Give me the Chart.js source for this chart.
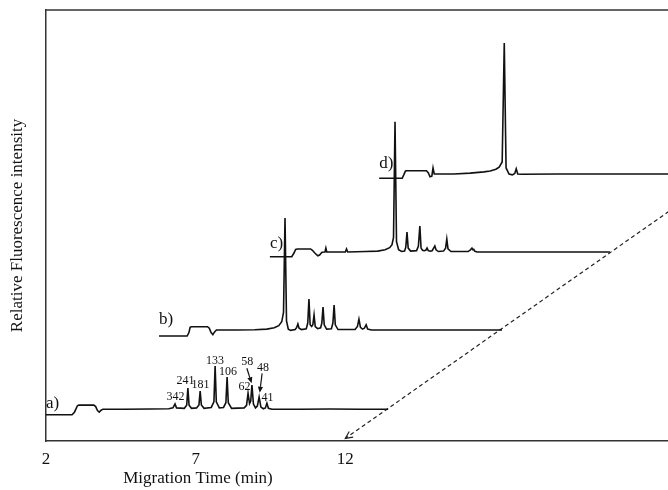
<!DOCTYPE html>
<html><head><meta charset="utf-8">
<script src="https://cdn.jsdelivr.net/npm/chart.js@4.4.1/dist/chart.umd.min.js"></script>
<style>html,body{margin:0;padding:0;background:#fff;}canvas{display:block;}</style>
</head><body>
<canvas id="c" width="668" height="490"></canvas>
<script>
// ---- data ----
const traceNames = ['a)', 'b)', 'c)', 'd)'];
const traceShiftMin = [0, 3.775, 7.48, 11.13];      // waterfall shift along time (min)
const traceShiftInt = [6.08, 24.36, 42.76, 60.95];  // waterfall shift along intensity
const traceLabelLift = [2.7, 3.9, 3.1, 3.5];

// [time (min), relative intensity]
const traceA = [[2.00,0],[2.87,0],[2.95,0.6],[3.05,2.1],[3.10,2.25],[3.60,2.25],[3.66,1.9],[3.72,1.0],[3.78,0.6],[3.83,1.0],[3.90,1.3],[4.60,1.3],[5.50,1.35],[6.10,1.4],[6.24,1.6],[6.31,2.5],[6.36,1.6],[6.62,1.5],[6.70,2.2],[6.74,6.2],[6.78,2.2],[6.86,1.5],[7.03,1.6],[7.11,2.3],[7.15,5.5],[7.19,2.3],[7.28,1.5],[7.52,1.7],[7.61,3.0],[7.65,11.3],[7.69,3.0],[7.79,1.6],[7.93,1.7],[8.01,2.8],[8.05,8.75],[8.09,2.8],[8.20,1.5],[8.62,1.6],[8.70,2.2],[8.75,5.0],[8.80,2.6],[8.84,3.2],[8.88,6.9],[8.93,2.5],[9.00,1.6],[9.06,2.0],[9.12,4.1],[9.18,1.8],[9.26,1.4],[9.33,1.6],[9.38,2.7],[9.43,1.5],[9.55,1.3],[10.5,1.3],[11.5,1.35],[12.5,1.3],[13.43,1.3]];
const traceB = [[2.00,0],[2.94,0],[3.00,0.8],[3.04,2.0],[3.08,2.16],[3.62,2.16],[3.68,1.8],[3.74,0.8],[3.80,0.3],[3.85,0.9],[3.92,1.4],[4.60,1.4],[5.20,1.45],[5.60,1.6],[5.85,1.9],[6.00,2.4],[6.10,3.3],[6.16,5.5],[6.21,27.4],[6.26,3.5],[6.32,1.6],[6.40,1.3],[6.55,1.5],[6.60,2.0],[6.64,2.8],[6.68,1.8],[6.76,1.5],[6.92,1.7],[6.97,3.0],[7.01,8.6],[7.05,2.6],[7.10,2.2],[7.14,2.6],[7.18,4.9],[7.22,2.2],[7.30,1.7],[7.40,1.9],[7.44,3.0],[7.48,6.7],[7.52,2.6],[7.60,1.6],[7.76,1.7],[7.81,3.0],[7.85,7.2],[7.89,2.6],[7.98,1.5],[8.55,1.5],[8.63,2.2],[8.68,3.9],[8.73,2.0],[8.80,1.6],[8.86,1.8],[8.92,2.6],[8.97,1.6],[9.10,1.4],[10.0,1.4],[11.0,1.4],[12.0,1.4],[13.46,1.39]];
const traceC = [[2.00,0],[2.73,0],[2.80,0.8],[2.86,1.7],[2.92,1.8],[3.36,1.8],[3.42,1.5],[3.50,0.86],[3.60,0.2],[3.66,0.4],[3.74,1.05],[3.84,1.1],[3.87,2.0],[3.90,1.1],[4.52,1.1],[4.56,1.8],[4.60,1.1],[5.20,1.2],[5.60,1.3],[5.85,1.6],[6.00,2.1],[6.08,2.8],[6.13,4.5],[6.18,31.3],[6.23,3.5],[6.30,1.6],[6.40,1.2],[6.50,1.3],[6.54,2.2],[6.58,5.7],[6.62,2.0],[6.70,1.3],[6.90,1.4],[6.96,2.4],[7.01,7.1],[7.05,2.0],[7.10,1.5],[7.15,1.4],[7.21,1.5],[7.25,2.0],[7.29,1.4],[7.35,1.3],[7.42,1.4],[7.47,2.0],[7.51,2.5],[7.55,1.6],[7.63,1.2],[7.80,1.3],[7.87,2.0],[7.91,4.1],[7.95,1.8],[8.05,1.2],[8.62,1.2],[8.70,1.6],[8.75,2.0],[8.78,1.6],[8.81,1.7],[8.84,1.3],[8.92,1.1],[10.0,1.1],[11.0,1.1],[12.0,1.1],[13.36,1.09]];
const traceD = [[2.00,0],[2.77,0],[2.83,0.9],[2.88,1.7],[2.93,1.76],[3.58,1.76],[3.64,1.3],[3.70,0.37],[3.76,0.5],[3.80,2.4],[3.84,1.0],[4.50,1.0],[5.04,1.2],[5.50,1.5],[5.71,1.7],[5.90,2.1],[6.01,2.6],[6.11,3.8],[6.18,31.4],[6.24,2.4],[6.34,1.0],[6.45,0.8],[6.53,1.1],[6.58,2.2],[6.63,1.0],[6.75,0.95],[8.0,1.0],[10.0,1.0],[12.5,1.0]];
const traces = [traceA, traceB, traceC, traceD];

const xTickValues = [2, 7, 12];
const xTitle = 'Migration Time (min)';
const yTitle = 'Relative Fluorescence intensity';

const peakLabels    = ['342', '241', '181', '133', '106', '62', '58', '48', '41'];
const peakLabelTime = [6.33, 6.66, 7.16, 7.65, 8.08, 8.63, 8.72, 9.25, 9.40];
const peakLabelInt  = [10.2, 14.0, 13.0, 18.6, 16.1, 12.5, 18.4, 16.9, 10.1];

const arrowFrom = [[8.71, 16.87], [9.22, 15.7]];
const arrowTo   = [[8.87, 13.39], [9.14, 11.2]];
const dashedArrow = [[23.0, 54.2], [12.0, 0.6]];

// ---- chart ----
const SERIF = '"Liberation Serif", "Times New Roman", serif';
const datasets = traces.map((tr, i) => ({
  label: traceNames[i],
  data: tr.map(([t, s]) => ({ x: t + traceShiftMin[i], y: s + traceShiftInt[i] })),
  borderColor: '#111', borderWidth: 1.6, pointRadius: 0, tension: 0, fill: false
}));
datasets.push({
  label: 'arrow',
  data: dashedArrow.map(([t, v]) => ({ x: t, y: v })),
  borderColor: '#222', borderWidth: 1.2, borderDash: [4, 3], pointRadius: 0, fill: false
});

const overlay = {
  id: 'overlay',
  afterDatasetsDraw(chart) {
    const { ctx, chartArea: ca, scales: { x, y } } = chart;
    const px = t => x.getPixelForValue(t), py = v => y.getPixelForValue(v);
    ctx.save();
    ctx.strokeStyle = '#333'; ctx.lineWidth = 1.5;
    ctx.beginPath(); ctx.moveTo(ca.left, ca.top); ctx.lineTo(ca.right, ca.top); ctx.stroke();

    ctx.fillStyle = '#111';
    ctx.font = '17px ' + SERIF; ctx.textAlign = 'left'; ctx.textBaseline = 'middle';
    traceNames.forEach((n, i) => ctx.fillText(n, px(2 + traceShiftMin[i]), py(traceShiftInt[i] + traceLabelLift[i])));

    ctx.font = '12px ' + SERIF; ctx.textAlign = 'center';
    peakLabels.forEach((l, i) => ctx.fillText(l, px(peakLabelTime[i]), py(peakLabelInt[i])));

    ctx.strokeStyle = '#111'; ctx.lineWidth = 1.2;
    arrowFrom.forEach((f, i) => {
      const x1 = px(f[0]), y1 = py(f[1]), x2 = px(arrowTo[i][0]), y2 = py(arrowTo[i][1]);
      const a = Math.atan2(y2 - y1, x2 - x1), L = 6, W = 2.6;
      ctx.beginPath(); ctx.moveTo(x1, y1); ctx.lineTo(x2 - L * Math.cos(a), y2 - L * Math.sin(a)); ctx.stroke();
      ctx.beginPath(); ctx.moveTo(x2, y2);
      ctx.lineTo(x2 - L * Math.cos(a) + W * Math.sin(a), y2 - L * Math.sin(a) - W * Math.cos(a));
      ctx.lineTo(x2 - L * Math.cos(a) - W * Math.sin(a), y2 - L * Math.sin(a) + W * Math.cos(a));
      ctx.closePath(); ctx.fill();
    });

    // open head of the dashed arrow
    const [f, t] = dashedArrow;
    const tx = px(t[0]), ty = py(t[1]);
    const a = Math.atan2(ty - py(f[1]), tx - px(f[0]));
    ctx.lineWidth = 1.2; ctx.strokeStyle = '#222';
    ctx.beginPath();
    ctx.moveTo(tx - 8 * Math.cos(a - 0.45), ty - 8 * Math.sin(a - 0.45));
    ctx.lineTo(tx, ty);
    ctx.lineTo(tx - 8 * Math.cos(a + 0.45), ty - 8 * Math.sin(a + 0.45));
    ctx.stroke();

    ctx.font = '17px ' + SERIF; ctx.textAlign = 'center'; ctx.textBaseline = 'middle';
    ctx.fillText(xTitle, 198, 479);
    ctx.restore();
  }
};

new Chart(document.getElementById('c'), {
  type: 'line',
  data: { datasets },
  options: {
    responsive: false, animation: false, devicePixelRatio: 1,
    events: [],
    layout: { padding: { top: 10, right: 0, bottom: 0, left: 0 } },
    plugins: { legend: { display: false }, tooltip: { enabled: false } },
    scales: {
      x: {
        type: 'linear', min: 2, max: 22.78,
        afterBuildTicks: s => { s.ticks = xTickValues.map(v => ({ value: v })); },
        afterFit: s => { s.height = 49; },
        grid: { display: false, drawTicks: false },
        border: { display: true, color: '#333', width: 1.5 },
        ticks: { padding: 8, color: '#111', font: { family: SERIF, size: 17 }, maxRotation: 0, autoSkip: false,
                 callback: v => String(v) }
      },
      y: {
        min: 0, max: 100,
        afterFit: s => { s.width = 46; },
        grid: { display: false, drawTicks: false },
        border: { display: true, color: '#333', width: 1.5 },
        ticks: { display: false },
        title: { display: true, text: yTitle, color: '#111', font: { family: SERIF, size: 17 }, padding: { top: 7, bottom: 0 } }
      }
    }
  },
  plugins: [overlay]
});
</script>
</body></html>
